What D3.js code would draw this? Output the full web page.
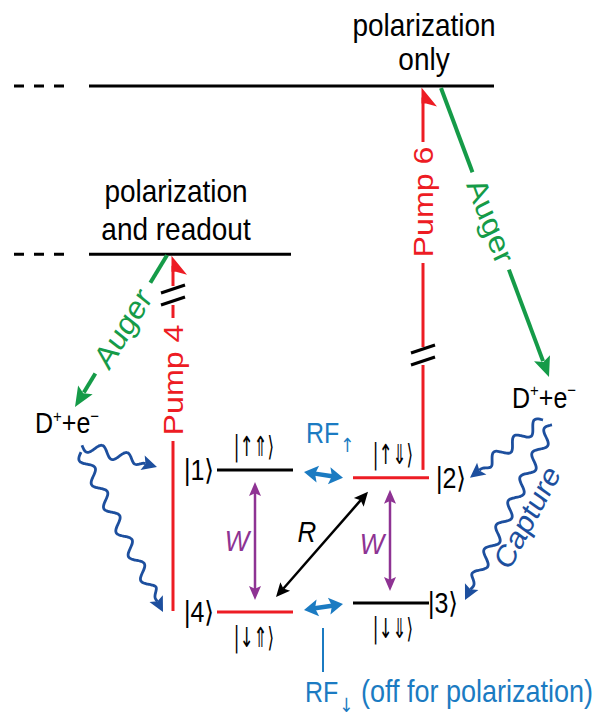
<!DOCTYPE html>
<html>
<head>
<meta charset="utf-8">
<script src="https://cdn.jsdelivr.net/npm/d3@7"></script>
<style>
body { margin: 0; background: #fff; }
text { font-family: Arial, "Liberation Sans", "DejaVu Sans", sans-serif; }
</style>
</head>
<body>
<svg id="chart"></svg>
<script>
// spin levels of the donor (energy in arbitrary units, |4> = 0)
const levelNames = ['|1⟩', '|2⟩', '|3⟩', '|4⟩'];
const levelKets = ['|↑⇑⟩', '|↑⇓⟩', '|↓⇓⟩', '|↓⇑⟩'];
const levelEnergy = [27.0, 25.5, 1.7, 0];
const levelColumn = ['left', 'right', 'right', 'left'];
const levelPumped = [false, true, false, true];

// excited bands reached by the pumps
const bandLabels = [['polarization', 'only'], ['polarization', 'and readout']];
const bandEnergy = [100, 68];
const pumpLabels = ['Pump 6', 'Pump 4'];
const pumpFromLevel = [1, 3];

// ionised donor
const donorLabel = ['D', '+', '+e', '−'];
const donorEnergy = [34, 38.8];

const augerLabel = 'Auger';
const captureLabel = 'Capture';
const rfLabels = ['RF', '↑', '↓', '(off for polarization)'];

const width = 597, height = 717;
const SY = 1.15; // text is a bit taller than wide in the figure
const arrowFont = '"DejaVu Sans", sans-serif';

const red = '#ed1c24', green = '#159b48', rfBlue = '#1b7bc2',
  capBlue = '#1d4f9e', purple = '#8e3393';

const y = d3.scaleLinear().domain([0, 100]).range([612, 86]);
const col = d3.scaleOrdinal().domain(['left', 'right']).range([217, 353]);
const levelW = 76;

const svg = d3.select('#chart')
  .attr('width', width)
  .attr('height', height);

const label = (x, yy, str, o = {}) => {
  const th = (o.rot || 0) * Math.PI / 180;
  const r = Math.atan2(Math.sin(th) / SY, Math.cos(th)) * 180 / Math.PI;
  return svg.append('text')
    .attr('transform', `translate(${x},${yy}) scale(${o.sx || 1},${SY}) rotate(${r})`)
    .attr('text-anchor', o.anchor || 'middle')
    .attr('dy', o.dy || null)
    .attr('font-size', o.size || 28)
    .style('font-family', o.family || null)
    .attr('font-style', o.italic ? 'italic' : null)
    .attr('fill', o.color || '#000')
    .text(str);
};

const line = (x1, y1, x2, y2, color, w) => svg.append('line')
  .attr('x1', x1).attr('y1', y1).attr('x2', x2).attr('y2', y2)
  .attr('stroke', color).attr('stroke-width', w);

const head = (tip, from, len, hw, color) => {
  const dx = tip[0] - from[0], dy = tip[1] - from[1], L = Math.hypot(dx, dy);
  const ux = dx / L, uy = dy / L;
  const bx = tip[0] - ux * len, by = tip[1] - uy * len;
  svg.append('path')
    .attr('d', `M${tip}L${bx - uy * hw},${by + ux * hw}L${bx + ux * len * 0.2},${by + uy * len * 0.2}L${bx + uy * hw},${by - ux * hw}Z`)
    .attr('fill', color);
};

const arrow = (p0, p1, color, w, len, hw, both) => {
  const dx = p1[0] - p0[0], dy = p1[1] - p0[1], L = Math.hypot(dx, dy);
  const ux = dx / L, uy = dy / L;
  const s0 = both ? len - 3 : 0;
  line(p0[0] + ux * s0, p0[1] + uy * s0, p1[0] - ux * (len - 3), p1[1] - uy * (len - 3), color, w);
  head(p1, p0, len, hw, color);
  if (both) head(p0, p1, len, hw, color);
};

const wavy = (p0, p1, amp, wl, color) => {
  const dx = p1[0] - p0[0], dy = p1[1] - p0[1], L = Math.hypot(dx, dy);
  const ux = dx / L, uy = dy / L, nx = -uy, ny = ux;
  const hl = 15, end = L - hl + 3;
  const pts = d3.range(0, end, 1).concat([end]).map(s => {
    const o = amp * Math.sin(2 * Math.PI * s / wl) * Math.min(1, (end - s) / (wl * 0.5));
    return [p0[0] + ux * s + nx * o, p0[1] + uy * s + ny * o];
  });
  svg.append('path').attr('d', d3.line().curve(d3.curveBasis)(pts))
    .attr('fill', 'none').attr('stroke', color).attr('stroke-width', 2.8);
  head(p1, [p1[0] - ux * 10, p1[1] - uy * 10], hl, 7.5, color);
};

// bands
const bandRight = [494, 291];
bandEnergy.forEach((e, i) => {
  line(89, y(e), bandRight[i], y(e), '#000', 3);
  line(14, y(e), 64, y(e), '#000', 3).attr('stroke-dasharray', '10,10');
});
label(424, y(bandEnergy[0]) - 50, bandLabels[0][0]);
label(424, y(bandEnergy[0]) - 16, bandLabels[0][1]);
label(176, y(bandEnergy[1]) - 52, bandLabels[1][0]);
label(176, y(bandEnergy[1]) - 14, bandLabels[1][1]);

// levels
levelEnergy.forEach((e, i) => {
  const x0 = col(levelColumn[i]), yy = y(e);
  line(x0, yy, x0 + levelW, yy, levelPumped[i] ? red : '#000', 3);
  const left = levelColumn[i] === 'left';
  label(left ? x0 - 18 : x0 + levelW + (i === 1 ? 22 : 14), yy, levelNames[i], { size: 25, dy: '0.35em' });
  const above = i < 2;
  label(x0 + levelW / 2 + (left ? -1 : 2), above ? yy - 14 : yy + 35, levelKets[i],
    { size: 24, sx: 0.7, family: arrowFont });
});

// pump lines with breaks, flags and labels
const pumpX = [col('right') + levelW - 6, col('left') - 44];
const pumpTop = bandEnergy.map(e => y(e) + 1.5);
const pumpBottom = pumpFromLevel.map((l, i) => y(levelEnergy[l]) - (i === 0 ? 8 : 1));
const pumpText = [[147, 257], [323, 437]];
const pumpHash = [355, 295];
pumpX.forEach((x, i) => {
  const top = pumpTop[i], bot = pumpBottom[i], [t0, t1] = pumpText[i], h = pumpHash[i];
  const segs = i === 0
    ? [[top + 10, t0 - 5], [t1 + 6, h - 8], [h + 10, bot]]
    : [[top + 10, h - 9], [h + 10, t0 - 5], [t1 + 4, bot]];
  segs.forEach(s => line(x, s[0], x, s[1], red, 3));
  svg.append('path')
    .attr('d', `M${x - 1.5},${top}L${x + 14},${top + 19}L${x + 3},${top + 16}L${x - 1.5},${top + 16}Z`)
    .attr('fill', red);
  [-6, 6].forEach(o => line(x - 12, h + o + 4, x + 12, h + o - 4, '#000', 3));
  label(x, (t0 + t1) / 2, pumpLabels[i], { rot: -90, color: red, dy: '0.35em' });
});

// Auger arrows
const augers = [
  { p0: [441, y(bandEnergy[0]) + 2], p1: [549, 377], t: 0.46, gap: 52 },
  { p0: [167, y(bandEnergy[1]) + 1], p1: [75, 407], t: 0.48, gap: 53 }
];
augers.forEach(a => {
  const dx = a.p1[0] - a.p0[0], dy = a.p1[1] - a.p0[1], L = Math.hypot(dx, dy);
  const ux = dx / L, uy = dy / L, c = a.t * L;
  line(a.p0[0], a.p0[1], a.p0[0] + ux * (c - a.gap), a.p0[1] + uy * (c - a.gap), green, 4);
  arrow([a.p0[0] + ux * (c + a.gap), a.p0[1] + uy * (c + a.gap)], a.p1, green, 4, 20, 8.5, false);
  let ang = Math.atan2(dy, dx) * 180 / Math.PI;
  if (ang > 90) ang -= 180;
  label(a.p0[0] + ux * c, a.p0[1] + uy * c, augerLabel, { rot: ang, color: green, dy: '0.35em', size: 29 });
});

// ionised donor labels
const donorX = [35, 512];
donorEnergy.forEach((e, i) => {
  const t = label(donorX[i], y(e), '', { anchor: 'start', size: 25 });
  t.append('tspan').text(donorLabel[0]);
  t.append('tspan').attr('font-size', 15).attr('dy', -10).text(donorLabel[1]);
  t.append('tspan').attr('dy', 10).text(donorLabel[2]);
  t.append('tspan').attr('font-size', 15).attr('dy', -10).text(donorLabel[3]);
});

// capture paths
const l1 = y(levelEnergy[0]), l2 = y(levelEnergy[1]), l3 = y(levelEnergy[2]), l4 = y(levelEnergy[3]);
wavy([82, y(donorEnergy[0]) + 12], [157, l1 - 3], 5.5, 26, capBlue);
wavy([81, y(donorEnergy[0]) + 19], [163, l4], 5.5, 27, capBlue);
wavy([543, y(donorEnergy[1]) + 12], [470, l2], 5.5, 26, capBlue);
wavy([552, y(donorEnergy[1]) + 17], [465, l3 - 3], 5.5, 27, capBlue);
label(527, 517, captureLabel, { rot: -61.8, color: capBlue, dy: '0.35em' });

// W and R rates
const cL = col('left') + levelW / 2, cR = col('right') + levelW / 2;
arrow([cL, l1 + 12], [cL, l4 - 12], purple, 2.5, 14, 6, true);
arrow([cR - 1, l2 + 12], [cR - 1, l3 - 12], purple, 2.5, 14, 6, true);
label(cL - 18, (l1 + l4) / 2, 'W', { italic: true, color: purple, dy: '0.35em', size: 26 });
label(cR - 19, (l2 + l3) / 2 + 3, 'W', { italic: true, color: purple, dy: '0.35em', size: 26 });
arrow([col('right') + 15, l2 + 14], [col('left') + levelW - 17, l4 - 15], '#000', 2.5, 14, 6.5, true);
label(307, 532, 'R', { italic: true, dy: '0.35em', size: 26 });

// RF drives
const gapL = col('left') + levelW + 11, gapR = col('right') - 10;
arrow([gapL, l1 + 2], [gapR, l2], rfBlue, 4.5, 14, 8.5, true);
arrow([gapL, l4 - 2], [gapR, l3 + 1], rfBlue, 4.5, 14, 8.5, true);
const rfUp = label(306, l1 - 27, '', { anchor: 'start', size: 25, color: rfBlue });
rfUp.append('tspan').text(rfLabels[0]);
rfUp.append('tspan').attr('font-size', 17).attr('dy', 8).attr('dx', 1)
  .style('font-family', arrowFont).text(rfLabels[1]);
line(323, l4 + 16, 323, l4 + 60, rfBlue, 2);
const rfDn = label(305, l4 + 90, '', { anchor: 'start', size: 25, color: rfBlue });
rfDn.append('tspan').text(rfLabels[0]);
rfDn.append('tspan').attr('font-size', 17).attr('dy', 9).attr('dx', 1)
  .style('font-family', arrowFont).text(rfLabels[2]);
rfDn.append('tspan').attr('dy', -9).attr('font-size', 27).text(' ' + rfLabels[3]);
</script>
</body>
</html>
